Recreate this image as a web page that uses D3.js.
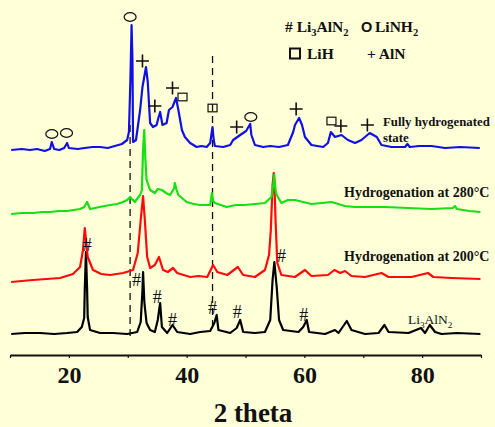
<!DOCTYPE html>
<html>
<head>
<meta charset="utf-8">
<script src="https://cdn.jsdelivr.net/npm/d3@7"></script>
<style>
  html, body { margin: 0; padding: 0; background: #ffffd8; }
  svg { display: block; }
  .serif { font-family: "Liberation Serif", "Times New Roman", serif; }
  .axis text { font-family: "Liberation Serif", serif; font-weight: bold; font-size: 24px; fill: #111; }
  .axis path, .axis line { stroke: #111; }
  .trace { fill: none; stroke-width: 2.2; stroke-linejoin: round; }
</style>
</head>
<body>
<div class="chart"></div>
<script>

// data: [2 theta, intensity (a.u., stacked)]

const blueFull = [
  [10.2, 205], [12.0, 206], [13.4, 205], [14.6, 206], [15.9, 204], [16.8, 206], [17.1, 213], [17.5, 206],
  [18.4, 205], [19.2, 207], [19.7, 212], [20.0, 207], [21.5, 206], [22.7, 207], [24.0, 208], [25.3, 208],
  [26.6, 207], [27.8, 209], [29.0, 211], [29.9, 215], [30.2, 223], [30.45, 275], [30.65, 330], [30.8, 295],
  [30.9, 213], [31.4, 215], [32.1, 245], [32.5, 268], [33.1, 288], [33.4, 273], [33.8, 232], [34.3, 228],
  [34.9, 230], [35.2, 237], [35.5, 243], [35.9, 230], [36.6, 232], [37.0, 245], [37.6, 248], [38.2, 257],
  [38.6, 245], [39.2, 225], [39.7, 218], [40.6, 212], [41.7, 208], [42.5, 209], [43.4, 208], [44.0, 212],
  [44.4, 228], [44.6, 215], [44.8, 209], [46.2, 208], [47.4, 210], [47.9, 215], [49.1, 220], [50.1, 224],
  [50.4, 227], [50.8, 231], [51.0, 220], [51.6, 210], [53.0, 208], [54.2, 209], [55.7, 208], [57.2, 210],
  [58.1, 223], [58.4, 230], [59.1, 237], [59.6, 230], [60.1, 218], [61.2, 210], [63.2, 208], [64.0, 212],
  [64.5, 223], [65.2, 218], [66.3, 220], [67.4, 215], [68.6, 212], [69.7, 215], [71.1, 222], [72.3, 218],
  [73.1, 210], [74.8, 208], [77.1, 208], [77.5, 211], [77.9, 208], [79.5, 209], [81.6, 209], [83.9, 207],
  [86.5, 208], [89.8, 207]
];

const green280 = [
  [10.2, 141], [12.0, 142], [13.9, 142], [15.5, 143], [16.8, 143], [18.3, 144], [19.7, 144], [21.9, 146],
  [22.6, 148], [23.1, 153], [23.6, 146], [25.2, 148], [27.0, 150], [28.2, 151], [29.2, 153], [29.9, 155],
  [30.4, 158], [31.2, 153], [32.1, 160], [32.4, 165], [32.6, 205], [32.8, 225], [33.0, 195], [33.2, 175],
  [33.8, 165], [34.6, 162], [35.1, 166], [35.8, 165], [36.5, 162], [37.2, 160], [37.9, 167], [38.0, 172],
  [38.3, 165], [38.6, 160], [40.0, 153], [41.2, 151], [42.3, 150], [44.0, 150], [44.3, 162], [44.5, 154],
  [44.8, 152], [46.8, 148], [48.4, 150], [49.9, 150], [51.6, 151], [53.3, 152], [54.4, 158], [54.7, 170],
  [54.9, 180], [55.1, 165], [55.3, 160], [56.1, 152], [57.2, 155], [58.4, 155], [59.8, 153], [61.2, 151],
  [63.0, 152], [64.6, 153], [66.9, 149], [68.5, 148], [70.3, 148], [73.7, 148], [77.6, 147], [81.6, 146],
  [85.2, 147], [85.6, 149], [85.9, 146], [88.0, 144], [89.9, 143]
];

const red200 = [
  [10.2, 73], [12.0, 74], [13.9, 75], [16.2, 76], [18.5, 77], [20.7, 81], [21.9, 88], [22.4, 105],
  [22.6, 120], [22.7, 127], [23.0, 110], [23.2, 98], [24.1, 85], [25.5, 81], [27.0, 80], [29.2, 82],
  [30.9, 85], [31.7, 102], [32.2, 135], [32.6, 159], [32.9, 135], [33.3, 98], [33.8, 87], [34.6, 90],
  [35.3, 98], [36.0, 85], [36.8, 83], [37.7, 87], [38.4, 82], [40.6, 78], [42.0, 79], [43.5, 78],
  [44.5, 90], [45.2, 83], [46.9, 80], [48.7, 88], [49.6, 80], [51.6, 78], [53.3, 85], [54.0, 100],
  [54.3, 125], [54.6, 170], [54.8, 182], [55.0, 155], [55.1, 135], [55.4, 92], [56.1, 80], [58.4, 78],
  [60.1, 85], [61.2, 79], [64.0, 80], [65.1, 85], [66.1, 82], [66.9, 84], [68.0, 79], [70.3, 78],
  [73.1, 82], [74.3, 78], [78.2, 78], [81.0, 82], [81.9, 78], [85.0, 77], [89.9, 76]
];

const blackLi3AlN2 = [
  [10.2, 21], [12.5, 22], [15.1, 22], [17.5, 21], [19.7, 22], [21.4, 23], [22.2, 28], [22.6, 37],
  [22.7, 65], [22.9, 103], [23.1, 65], [23.2, 38], [23.6, 25], [25.3, 22], [27.5, 22], [29.9, 21],
  [31.6, 23], [32.2, 33], [32.5, 65], [32.6, 83], [32.8, 55], [32.9, 48], [33.2, 32], [33.8, 25],
  [34.6, 23], [35.1, 35], [35.5, 52], [35.8, 28], [36.7, 22], [37.6, 30], [38.4, 23], [40.6, 21],
  [42.3, 23], [44.0, 24], [44.7, 32], [45.1, 40], [45.4, 25], [47.4, 22], [48.5, 27], [49.1, 35],
  [49.6, 23], [51.6, 22], [53.3, 23], [54.2, 35], [54.6, 75], [54.9, 93], [55.3, 68], [55.7, 35],
  [56.4, 25], [59.0, 23], [59.8, 28], [60.4, 35], [60.8, 23], [63.5, 21], [65.2, 25], [65.8, 22],
  [67.2, 34], [68.0, 25], [70.3, 21], [72.6, 22], [73.6, 30], [74.3, 23], [77.7, 22], [79.8, 27],
  [80.5, 22], [81.3, 30], [82.2, 23], [83.3, 21], [85.9, 22], [89.9, 21]
];

const seriesColors = { blue: "#1010e6", green: "#14e014", red: "#ff0a0a", black: "#000000" };

// phase markers [2 theta, intensity]
const lineNH2Marks = [[30.4, 338], [17.1, 221], [19.6, 222], [50.9, 238]];
const alnMarks = [[32.5, 294], [34.6, 249], [37.6, 267], [48.5, 228], [58.6, 246], [66.2, 229], [70.7, 230]];
const lihMarks = [[39.3, 258], [44.4, 247], [64.6, 234]];
const li3Marks = [[23.1, 110], [31.5, 75], [35.0, 58], [37.6, 35], [44.4, 47], [48.6, 43], [56.1, 99], [59.9, 40]];

const refLines = [[30.4, 0, 230], [44.4, 15, 299]];
const xTicks = [10, 20, 30, 40, 50, 60, 70, 80, 90];
const xLabels = [20, 40, 60, 80];

const W = 495, H = 427;

const x = d3.scaleLinear().domain([10, 90]).range([10, 481]);
const y = d3.scaleLinear().domain([0, 340]).range([355, 15]);

const svg = d3.select(".chart").append("svg")
  .attr("width", W).attr("height", H)
  .attr("viewBox", [0, 0, W, H]);

svg.append("rect").attr("width", W).attr("height", H).attr("fill", "#ffffd8");

// dashed reference lines
svg.append("g")
  .selectAll("line")
  .data(refLines)
  .join("line")
  .attr("x1", d => x(d[0])).attr("x2", d => x(d[0]))
  .attr("y1", d => y(d[2])).attr("y2", d => y(d[1]) - 15)
  .attr("stroke", "#111")
  .attr("stroke-width", 1.3)
  .attr("stroke-dasharray", "7,5");

// traces
const line = d3.line().x(d => x(d[0])).y(d => y(d[1]));
const traces = [
  [blackLi3AlN2, seriesColors.black],
  [red200, seriesColors.red],
  [green280, seriesColors.green],
  [blueFull, seriesColors.blue]
];
svg.append("g")
  .selectAll("path")
  .data(traces)
  .join("path")
  .attr("class", "trace")
  .attr("stroke", d => d[1])
  .attr("d", d => line(d[0]));

// x axis
const xAxis = d3.axisBottom(x)
  .tickValues(xTicks)
  .tickSize(3)
  .tickSizeOuter(0)
  .tickFormat(d => xLabels.includes(d) ? d : "");

svg.append("g")
  .attr("class", "axis")
  .attr("transform", `translate(0, ${ y(0) })`)
  .call(xAxis)
  .call(g => g.select(".domain").attr("stroke-width", 2))
  .call(g => g.selectAll(".tick line").attr("stroke-width", 1.2))
  .call(g => g.selectAll(".tick text").attr("y", 28).attr("dy", 0));

svg.append("text")
  .attr("class", "serif")
  .attr("x", 253).attr("y", 422)
  .attr("text-anchor", "middle")
  .attr("font-weight", "bold")
  .attr("font-size", 27)
  .attr("fill", "#111")
  .text("2 theta");

// markers
const marks = svg.append("g").attr("stroke", "#111").attr("fill", "none");

marks.selectAll("ellipse")
  .data(lineNH2Marks)
  .join("ellipse")
  .attr("cx", d => x(d[0])).attr("cy", d => y(d[1]))
  .attr("rx", 6).attr("ry", 4.3)
  .attr("stroke-width", 1.2);

marks.selectAll("path.plus")
  .data(alnMarks)
  .join("path")
  .attr("class", "plus")
  .attr("stroke-width", 1.6)
  .attr("d", d => `M${ x(d[0]) - 6.5 },${ y(d[1]) }h13M${ x(d[0]) },${ y(d[1]) - 6.5 }v13`);

marks.selectAll("rect")
  .data(lihMarks)
  .join("rect")
  .attr("x", d => x(d[0]) - 4.5).attr("y", d => y(d[1]) - 3.8)
  .attr("width", 9).attr("height", 7.6)
  .attr("stroke-width", 1.2);

svg.append("g")
  .selectAll("text")
  .data(li3Marks)
  .join("text")
  .attr("class", "serif")
  .attr("x", d => x(d[0])).attr("y", d => y(d[1]) + 6)
  .attr("text-anchor", "middle")
  .attr("font-size", 18)
  .attr("fill", "#111")
  .text("#");

// legend and labels (numbers in [] are subscripts)
function label(x0, y0, size, weight, parts) {
  const t = svg.append("text")
    .attr("class", "serif")
    .attr("x", x0).attr("y", y0)
    .attr("font-size", size)
    .attr("font-weight", weight)
    .attr("fill", "#111");
  let shifted = false;
  parts.forEach(p => {
    if (typeof p === "string") {
      t.append("tspan").attr("dy", shifted ? -4 : null).text(p);
      shifted = false;
    } else {
      t.append("tspan").attr("font-size", "0.68em").attr("dy", 4).text(p[0]);
      shifted = true;
    }
  });
  return t;
}

label(285, 32, 15.5, "bold", ["# Li", ["3"], "AlN", ["2"]]);
svg.append("text")
  .attr("x", 361).attr("y", 32)
  .attr("font-family", "Liberation Sans, Arial, sans-serif")
  .attr("font-weight", "bold").attr("font-size", 14.5)
  .attr("fill", "#111").text("O");
label(375, 32, 15.5, "bold", ["LiNH", ["2"]]);

svg.append("rect")
  .attr("x", 290).attr("y", 48.5).attr("width", 10).attr("height", 10)
  .attr("fill", "none").attr("stroke", "#111").attr("stroke-width", 2);
label(307, 59, 15.5, "bold", ["LiH"]);
label(367, 59, 15.5, "bold", ["+ AlN"]);

label(383, 126, 12.8, "bold", ["Fully hydrogenated"]);
label(383, 142, 12.8, "bold", ["state"]);
label(344, 197, 14, "bold", ["Hydrogenation at 280\u00b0C"]);
label(344, 261, 14, "bold", ["Hydrogenation at 200\u00b0C"]);
label(408, 324, 13.5, "normal", ["Li", ["3"], "AlN", ["2"]]);

</script>
</body>
</html>
